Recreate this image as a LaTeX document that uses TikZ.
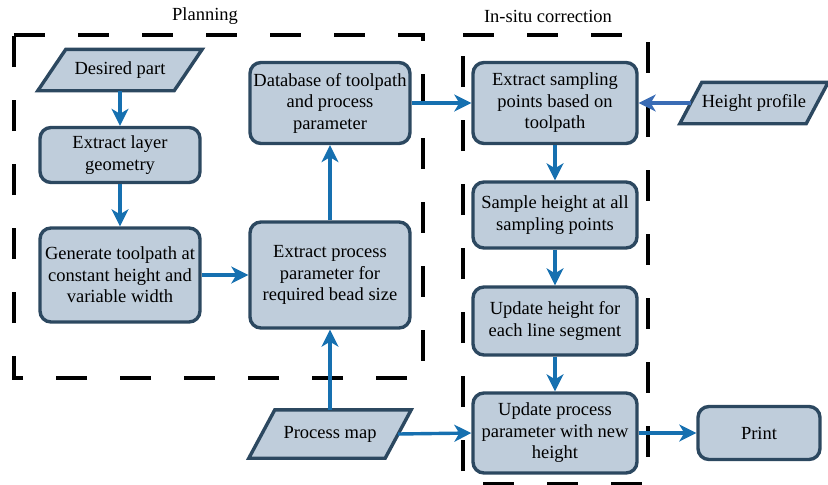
\documentclass[tikz,border=0pt]{standalone}
\usepackage{fontspec}
\setmainfont{Liberation Serif}
\newfontfamily\tnr{Liberation Serif}
\usetikzlibrary{arrows.meta,calc,backgrounds}
\definecolor{nfill}{RGB}{191,205,219}
\definecolor{nborder}{RGB}{44,72,96}
\definecolor{arr}{RGB}{22,112,176}
\definecolor{arrb}{RGB}{58,108,181}
\begin{document}
\begin{tikzpicture}[x=1pt,y=-1pt,
  every node/.style={font=\tnr\fontsize{18.5}{21.5}\selectfont, align=center, inner sep=0pt},
  box/.style={draw=nborder, fill=nfill, line width=3.4pt, rounded corners=11pt},
  pshape/.style={draw=nborder, fill=nfill, line width=3.4pt, line join=miter},
  flow/.style={draw=arr, line width=3.4pt, -{Stealth[length=17pt,width=17pt,inset=5pt]}},
  frame/.style={draw=black, line width=3.8pt, dash pattern=on 31pt off 33pt},
  title/.style={font=\tnr\fontsize{18.5}{21.5}\selectfont}]
\useasboundingbox (0,0) rectangle (828,485);

% group frames
\draw[frame] (14,35) -- (423,35) -- (423,378) -- (14,378) -- cycle;
\draw[frame] (463,35) -- (648,35) -- (648,484) -- (463,484) -- cycle;
\node[title] (tplan) at (205,16) {Planning};
\node[title] (tins) at (548,16) {In-situ correction};

% boxes
\node[box, minimum width=160, minimum height=55] (layer) at (120,155) {Extract layer\\geometry};
\node[box, minimum width=160, minimum height=94] (gen) at (120,275) {Generate toolpath at\\constant height and\\variable width};
\node[box, minimum width=160, minimum height=81] (db) at (330,103) {Database of toolpath\\and process\\parameter};
\node[box, minimum width=160, minimum height=106] (epp) at (330,275) {Extract process\\parameter for\\required bead size};
\node[box, minimum width=164, minimum height=81] (esp) at (555,103) {Extract sampling\\points based on\\toolpath};
\node[box, minimum width=164, minimum height=66] (sh) at (555,215) {Sample height at all\\sampling points};
\node[box, minimum width=164, minimum height=68] (uh) at (555,321) {Update height for\\each line segment};
\node[box, minimum width=164, minimum height=80] (upp) at (555,433) {Update process\\parameter with new\\height};
\node[box, minimum width=122, minimum height=53] (print) at (759,433) {Print};

% parallelograms (text nodes + shapes behind)
\node[minimum width=136, minimum height=41] (dp) at (120,70) {Desired part};
\node[minimum width=136, minimum height=48] (pm) at (330,434) {Process map};
\node[minimum width=126, minimum height=41] (hp) at (754,103) {Height profile};
\begin{scope}[on background layer]
\draw[pshape] ($(dp.north west)+(14,0)$) -- ($(dp.north east)+(14,0)$) -- ($(dp.south east)+(-14,0)$) -- ($(dp.south west)+(-14,0)$) -- cycle;
\draw[pshape] ($(pm.north west)+(13,0)$) -- ($(pm.north east)+(13,0)$) -- ($(pm.south east)+(-13,0)$) -- ($(pm.south west)+(-13,0)$) -- cycle;
\draw[pshape] ($(hp.north west)+(11,0)$) -- ($(hp.north east)+(11,0)$) -- ($(hp.south east)+(-11,0)$) -- ($(hp.south west)+(-11,0)$) -- cycle;
\end{scope}

% connectors
\draw[flow] (dp) -- (layer);
\draw[flow] (layer) -- (gen);
\draw[flow] (gen) -- (epp);
\draw[flow] (epp) -- (db);
\draw[flow] (pm) -- (epp);
\draw[flow] (db) -- (esp);
\draw[flow, draw=arrb] (hp.west) -- (esp.east);
\draw[flow] (esp) -- (sh);
\draw[flow] (sh) -- (uh);
\draw[flow] (uh) -- (upp);
\draw[flow] (pm.east) -- (upp.west);
\draw[flow] (upp) -- (print);
\end{tikzpicture}
\end{document}
